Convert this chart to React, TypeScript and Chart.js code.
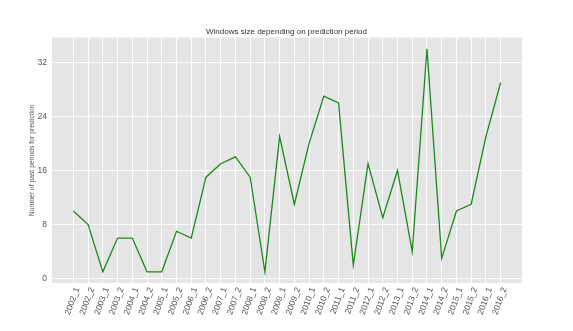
import React, { useEffect, useRef } from "react";
import { Chart, registerables } from "chart.js";

Chart.register(...registerables);

const periods = [
  "2002_1", "2002_2", "2003_1", "2003_2", "2004_1", "2004_2", "2005_1", "2005_2",
  "2006_1", "2006_2", "2007_1", "2007_2", "2008_1", "2008_2", "2009_1", "2009_2",
  "2010_1", "2010_2", "2011_1", "2011_2", "2012_1", "2012_2", "2013_1", "2013_2",
  "2014_1", "2014_2", "2015_1", "2015_2", "2016_1", "2016_2",
];

const windowSizes = [
  10, 8, 1, 6, 6, 1, 1, 7,
  6, 15, 17, 18, 15, 1, 21, 11,
  20, 27, 26, 2, 17, 9, 16, 4,
  34, 3, 10, 11, 21, 29,
];

const yTicks = [0, 8, 16, 24, 32];

const FONT = "'Liberation Sans', Arial, sans-serif";

const bgPlugin = {
  id: "plotBg",
  beforeDraw(chart: any) {
    const { ctx, chartArea } = chart;
    if (!chartArea) return;
    ctx.save();
    ctx.fillStyle = "#E5E5E5";
    ctx.fillRect(chartArea.left, chartArea.top, chartArea.right - chartArea.left, chartArea.bottom - chartArea.top);
    ctx.restore();
  },
};

export default function App() {
  const ref = useRef<HTMLCanvasElement | null>(null);

  useEffect(() => {
    if (!ref.current) return;
    const n = periods.length;
    const pad = (n - 1) * 0.05;
    const yMin = Math.min(...windowSizes);
    const yMax = Math.max(...windowSizes);
    const yPad = (yMax - yMin) * 0.05;
    const chart = new Chart(ref.current, {
      type: "line",
      data: {
        datasets: [
          {
            data: windowSizes.map((v, i) => ({ x: i, y: v })),
            borderColor: "#1a8a1a",
            borderWidth: 1.3,
            pointRadius: 0,
            tension: 0,
            fill: false,
            yAxisID: "y",
          },
        ],
      },
      options: {
        animation: false,
        responsive: true,
        maintainAspectRatio: false,
        layout: { padding: 0 },
        plugins: {
          legend: { display: false },
          tooltip: { enabled: false },
          title: {
            display: true,
            text: "Windows size depending on prediction period",
            color: "#333333",
            font: { family: FONT, size: 8, weight: "normal" },
            padding: { top: 27, bottom: 1 },
          },
        },
        scales: {
          x: {
            type: "linear",
            min: -pad,
            max: n - 1 + pad,
            afterBuildTicks: (scale: any) => {
              scale.ticks = periods.map((_, i) => ({ value: i }));
            },
            afterFit: (scale: any) => {
              scale.height = 48;
            },
            ticks: {
              autoSkip: false,
              minRotation: 70,
              maxRotation: 70,
              labelOffset: 4,
              padding: 3,
              color: "#555555",
              font: { family: FONT, size: 8.5 },
              callback: (v: any) => periods[v as number] ?? "",
            },
            grid: { color: "#FFFFFF", lineWidth: 1, drawTicks: false },
            border: { display: false },
          },
          y: {
            type: "linear",
            position: "left",
            min: yMin - yPad,
            max: yMax + yPad,
            afterBuildTicks: (scale: any) => {
              scale.ticks = yTicks.map((v) => ({ value: v }));
            },
            afterFit: (scale: any) => {
              scale.width = 52;
            },
            ticks: {
              padding: 5,
              color: "#555555",
              font: { family: FONT, size: 8.5 },
            },
            grid: { color: "#FFFFFF", lineWidth: 1, drawTicks: false },
            border: { display: false },
            title: {
              display: true,
              text: "Number of past periods for prediction",
              color: "#555555",
              font: { family: FONT, size: 6.8 },
              padding: { top: 28, bottom: 0 },
            },
          },
          yRight: {
            type: "linear",
            position: "right",
            display: true,
            afterFit: (scale: any) => {
              scale.width = 51;
            },
            ticks: { display: false },
            grid: { display: false, drawTicks: false },
            border: { display: false },
          },
        },
      },
      plugins: [bgPlugin],
    });
    return () => chart.destroy();
  }, []);

  return (
    <div style={{ position: "fixed", left: 0, top: 0, width: 573, height: 331, background: "#FFFFFF" }}>
      <canvas ref={ref} />
    </div>
  );
}
